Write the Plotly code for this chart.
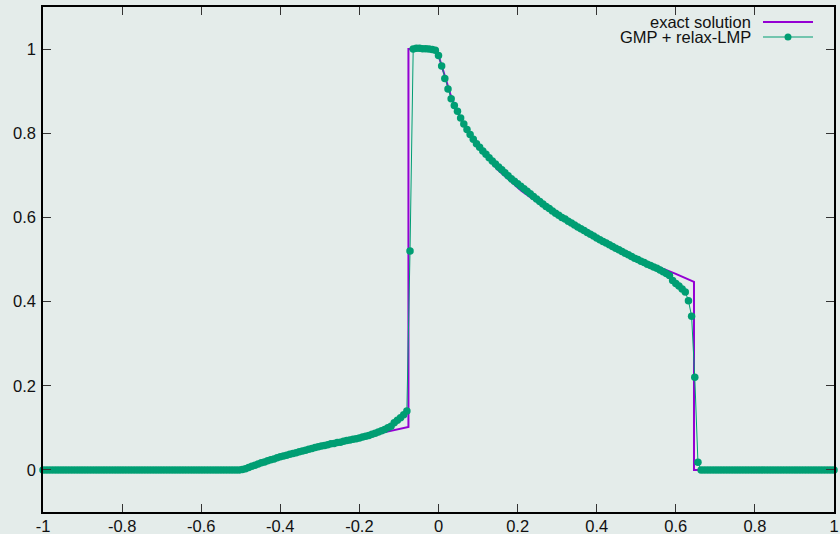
import numpy as np
import plotly.graph_objects as go

# ---------------------------------------------------------------
# Exact solution (piecewise: constant, ramp, jump, rarefaction, shock)
# ---------------------------------------------------------------
exact_x = [-1.0, -0.5, -0.45, -0.4, -0.35, -0.3, -0.25, -0.2, -0.15, -0.1, -0.076,
           -0.076, -0.004, 0.0, 0.01, 0.02, 0.03, 0.04, 0.05, 0.06, 0.08, 0.10,
           0.12, 0.15, 0.18, 0.21, 0.25, 0.30, 0.35, 0.40, 0.45, 0.50, 0.55,
           0.575, 0.60, 0.646, 0.646, 1.0]
exact_y = [0.0, 0.0, 0.016, 0.031, 0.044, 0.056, 0.066, 0.076, 0.086, 0.097, 0.102,
           1.0, 1.0, 0.985, 0.953, 0.922, 0.893, 0.868, 0.847, 0.828, 0.797, 0.770,
           0.745, 0.713, 0.688, 0.663, 0.636, 0.605, 0.577, 0.551, 0.527, 0.504, 0.485,
           0.477, 0.466, 0.447, 0.0, 0.0]

# ---------------------------------------------------------------
# Numerical solution (GMP + relax-LMP) on a uniform grid, dx = 0.008
# ---------------------------------------------------------------
num_x = np.linspace(-1.0, 1.0, 251)

num_left = [  # x = -1.000 ... -0.504
    0, 0, 0, 0, 0, 0, 0, 0, 0, 0, 0, 0, 0, 0, 0, 0, 0, 0, 0, 0, 0,
    0, 0, 0, 0, 0, 0, 0, 0, 0, 0, 0, 0, 0, 0, 0, 0, 0, 0, 0, 0, 0,
    0, 0, 0, 0, 0, 0, 0, 0, 0, 0, 0, 0, 0, 0, 0, 0, 0, 0, 0, 0, 0,
]
num_ramp = [  # x = -0.496 ... -0.080
    0.001, 0.003, 0.006, 0.009, 0.011, 0.014, 0.017, 0.019, 0.022, 0.024,
    0.026, 0.029, 0.031, 0.033, 0.035, 0.037, 0.039, 0.041, 0.043, 0.045,
    0.047, 0.049, 0.051, 0.053, 0.055, 0.057, 0.058, 0.060, 0.062, 0.063,
    0.065, 0.066, 0.068, 0.070, 0.071, 0.073, 0.074, 0.076, 0.078, 0.080,
    0.082, 0.085, 0.087, 0.090, 0.093, 0.096, 0.100, 0.104, 0.112, 0.118,
    0.124, 0.131, 0.140,
]
num_top = [  # x = -0.072 ... 0.096
    0.520, 1.000, 1.002, 1.002, 1.001, 1.001, 1.000, 0.999, 0.997, 0.985,
    0.960, 0.930, 0.905, 0.882, 0.866, 0.852, 0.836, 0.822, 0.809, 0.797,
    0.786, 0.775,
]
num_fan = [  # x = 0.104 ... 0.648
    0.767, 0.758, 0.750, 0.742, 0.734, 0.727, 0.720, 0.713, 0.706, 0.699,
    0.692, 0.686, 0.680, 0.674, 0.668, 0.662, 0.656, 0.650, 0.644, 0.638,
    0.632, 0.626, 0.621, 0.615, 0.610, 0.605, 0.600, 0.596, 0.591, 0.587,
    0.582, 0.577, 0.573, 0.569, 0.564, 0.560, 0.556, 0.551, 0.547, 0.543,
    0.539, 0.535, 0.531, 0.527, 0.523, 0.519, 0.515, 0.511, 0.507, 0.503,
    0.500, 0.496, 0.493, 0.489, 0.486, 0.482, 0.479, 0.475, 0.471, 0.467,
    0.462, 0.450, 0.443, 0.437, 0.430, 0.423, 0.402, 0.365, 0.220,
]
num_right = [  # x = 0.656 ... 1.000
    0.018,
    0, 0, 0, 0, 0, 0, 0, 0, 0, 0, 0, 0, 0, 0, 0, 0, 0, 0, 0, 0, 0,
    0, 0, 0, 0, 0, 0, 0, 0, 0, 0, 0, 0, 0, 0, 0, 0, 0, 0, 0, 0, 0, 0,
]
num_y = num_left + num_ramp + num_top + num_fan + num_right
assert len(num_y) == len(num_x)

x_ticks = [-1, -0.8, -0.6, -0.4, -0.2, 0, 0.2, 0.4, 0.6, 0.8, 1]
x_tick_text = ["-1", "-0.8", "-0.6", "-0.4", "-0.2", "0", "0.2", "0.4", "0.6", "0.8", "1"]
y_ticks = [0, 0.2, 0.4, 0.6, 0.8, 1]
y_tick_text = ["0", "0.2", "0.4", "0.6", "0.8", "1"]

series_names = ["exact solution", "GMP + relax-LMP"]
series_colors = ["#9400d3", "#009e73"]

BG = "#e4ecea"
FONT = "Liberation Sans, Arial, sans-serif"
FS = 16.5

fig = go.Figure()
fig.add_trace(go.Scatter(
    x=exact_x, y=exact_y, mode="lines", name=series_names[0],
    line=dict(color=series_colors[0], width=2), cliponaxis=False,
    showlegend=False,
))
fig.add_trace(go.Scatter(
    x=num_x, y=num_y, mode="lines+markers", name=series_names[1],
    line=dict(color=series_colors[1], width=1),
    marker=dict(color=series_colors[1], size=7.5),
    cliponaxis=False, showlegend=False,
))

# gnuplot-style key in the top-right corner: text right-aligned, sample on the right
L, R, T, B = 43, 6, 7, 22
W, H = 840 - L - R, 534 - T - B


def px(xp):
    return (xp - L) / W


def py(yp):
    return (534 - B - yp) / H


key_rows = [22, 37]
text_right = 753
sample_x0, sample_x1 = 763, 813
annotations = []
shapes = []
for i, (name, col) in enumerate(zip(series_names, series_colors)):
    yy = key_rows[i]
    annotations.append(dict(
        xref="paper", yref="paper", x=px(text_right), y=py(yy),
        xanchor="right", yanchor="middle", text=name, showarrow=False,
        font=dict(family=FONT, size=FS, color="#111"),
    ))
    shapes.append(dict(
        type="line", xref="paper", yref="paper",
        x0=px(sample_x0), x1=px(sample_x1), y0=py(yy), y1=py(yy),
        line=dict(color=col, width=2 if i == 0 else 1),
    ))
    if i == 1:
        shapes.append(dict(
            type="circle", xref="paper", yref="paper",
            xsizemode="pixel", ysizemode="pixel",
            xanchor=px((sample_x0 + sample_x1) / 2), yanchor=py(yy),
            x0=-3.5, x1=3.5, y0=-3.5, y1=3.5,
            fillcolor=col, line=dict(width=0),
        ))

axis_common = dict(
    showline=True, linecolor="black", linewidth=1.5, mirror="ticks",
    ticks="inside", ticklen=8, tickwidth=1, tickcolor="#333",
    showgrid=False, zeroline=False, automargin=False,
    tickfont=dict(family=FONT, size=FS, color="#111"),
)

fig.update_layout(
    width=840, height=534,
    margin=dict(l=L, r=R, t=T, b=B, pad=0),
    paper_bgcolor=BG, plot_bgcolor=BG,
    xaxis=dict(range=[-1, 1], tickvals=x_ticks, ticktext=x_tick_text,
               ticklabelstandoff=-2, **axis_common),
    yaxis=dict(range=[-0.1, 1.1], tickvals=y_ticks, ticktext=y_tick_text,
               ticklabelstandoff=2, **axis_common),
    annotations=annotations, shapes=shapes,
    showlegend=False,
)

fig.write_html("out.html")
